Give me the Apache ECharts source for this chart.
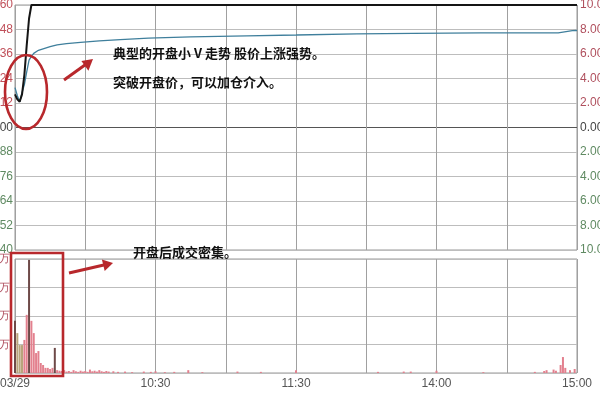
<!DOCTYPE html>
<html><head><meta charset="utf-8">
<script src="https://cdn.jsdelivr.net/npm/echarts@6/dist/echarts.min.js"></script>
<style>html,body{margin:0;padding:0;background:#fff}#c{width:600px;height:400px}</style>
</head><body><div id="c"></div>
<script>
// ---- data ----
const basePrice = 6.00;                       // opening reference price
const timeTicks = [0, 60, 120, 180, 240];     // minutes from 09:30
const timeTickLabels = ['03/29', '10:30', '11:30', '14:00', '15:00'];
const priceMinutes = [0, 1, 2, 3, 4, 5, 6, 7, 240];
const pricePct     = [2.7, 2.3, 2.1, 2.7, 4.3, 6.7, 8.9, 10, 10];
const avgMinutes = [0, 1, 2, 3, 4, 5, 6, 7, 8, 10, 15, 18, 22, 28, 36, 45, 57, 75, 99, 120, 146, 170, 199, 232, 238, 240];
const avgPct     = [3.25, 2.6, 2.1, 2.85, 3.5, 4.55, 5.5, 5.8, 6.05, 6.3, 6.6, 6.75, 6.85, 6.95, 7.07, 7.18, 7.3, 7.4, 7.48, 7.55, 7.64, 7.68, 7.72, 7.73, 7.9, 7.92];
const volMinutes = [0, 1, 2, 3, 4, 5, 6, 7, 8, 9, 10, 11, 12, 13, 14, 15, 16, 17, 18, 19,
  20, 21, 22, 23, 24, 25, 26, 27, 28, 29, 30, 31, 32, 33, 34, 35, 36, 37, 38, 39, 40, 42, 44, 47, 50, 55, 58, 60, 64, 68, 74, 80, 95, 105, 120, 155, 166, 169, 180, 200,
  222, 226, 227, 230, 231, 233, 234, 235, 237, 239];
const volValues = [183, 140, 98, 98, 116, 204, 397, 183, 140, 70, 77, 35, 28, 18, 18, 14, 18, 88, 10, 8,
  7, 10, 5, 7, 4, 10, 6, 4, 8, 5, 7, 4, 12, 6, 8, 5, 10, 6, 4, 7, 5, 6, 4, 5, 3, 5, 4, 6, 3, 4, 10, 3, 5, 4, 10, 4, 5, 5, 8, 3,
  4, 7, 10, 12, 8, 28, 56, 18, 10, 14];
const darkBarMinutes = [0, 6, 17];
const oliveBarMinutes = [1, 2, 3];

// ---- chart ----
const red = '#b8282c';
const chart = echarts.init(document.getElementById('c'), null, {renderer: 'canvas'});
const zip = (a, b) => a.map((v, i) => [v, b[i]]);
const font = '"Liberation Sans", Arial, sans-serif';
const hGrid = [];
for (let i = 0; i <= 10; i++) hGrid.push(i === 5 ? '#555' : '#bdbdbd');

chart.setOption({
  animation: false,
  backgroundColor: '#fff',
  grid: [
    {left: 15, right: 23, top: 5, height: 245, show: true, borderColor: '#999', borderWidth: 1,
     containLabel: false, outerBoundsMode: 'none'},
    {left: 15, right: 23, top: 259, height: 114, show: true, borderColor: '#999', borderWidth: 1,
     containLabel: false, outerBoundsMode: 'none'}
  ],
  xAxis: [
    {type: 'value', gridIndex: 0, min: 0, max: 240, interval: 30,
     axisLabel: {show: false}, axisTick: {show: false}, axisLine: {show: false},
     splitLine: {show: true, lineStyle: {color: '#a0a0a0', width: 1}}},
    {type: 'value', gridIndex: 1, min: 0, max: 240, interval: 30,
     axisTick: {show: false}, axisLine: {show: false},
     axisLabel: {margin: 5, fontSize: 12, color: '#555', fontFamily: font,
       showMinLabel: true, showMaxLabel: true, hideOverlap: false,
       formatter: v => { const i = timeTicks.indexOf(v); return i >= 0 ? timeTickLabels[i] : ''; }},
     splitLine: {show: true, lineStyle: {color: '#a0a0a0', width: 1}}}
  ],
  yAxis: [
    {type: 'value', gridIndex: 0, min: -10, max: 10, interval: 2, position: 'left',
     axisLine: {show: false}, axisTick: {show: false},
     axisLabel: {margin: 2, fontSize: 12, fontFamily: font,
       formatter: v => (basePrice * (1 + v / 100)).toFixed(2),
       color: v => (v > 0 ? '#c0505a' : v < 0 ? '#5f8a62' : '#444')},
     splitLine: {show: true, lineStyle: {color: hGrid, width: 1}}},
    {type: 'value', gridIndex: 0, min: -10, max: 10, interval: 2, position: 'right',
     axisLine: {show: false}, axisTick: {show: false},
     axisLabel: {margin: 3, fontSize: 12, fontFamily: font,
       formatter: v => Math.abs(v).toFixed(2) + '%',
       color: v => (v > 0 ? '#b0505e' : v < 0 ? '#5f8a62' : '#444')},
     splitLine: {show: false}},
    {type: 'value', gridIndex: 1, min: 0, max: 400, interval: 100, position: 'left',
     axisLine: {show: false}, axisTick: {show: false},
     axisLabel: {margin: 5, fontSize: 11, fontFamily: font, color: '#b05060',
       showMinLabel: false, formatter: v => v + '万'},
     splitLine: {show: true, lineStyle: {color: '#bdbdbd', width: 1}}}
  ],
  series: [
    {type: 'bar', xAxisIndex: 1, yAxisIndex: 2, barWidth: 2,
     data: zip(volMinutes, volValues),
     itemStyle: {color: p => darkBarMinutes.includes(p.value[0]) ? '#6e4a48'
        : oliveBarMinutes.includes(p.value[0]) ? '#b9a47c' : '#e3808e'}},
    {type: 'line', xAxisIndex: 0, yAxisIndex: 0, data: zip(avgMinutes, avgPct),
     symbol: 'none', clip: false, z: 4, lineStyle: {color: '#3f7f9c', width: 1.3}},
    {type: 'line', xAxisIndex: 0, yAxisIndex: 0, data: zip(priceMinutes, pricePct),
     symbol: 'none', clip: false, z: 5, lineStyle: {color: '#151515', width: 2}}
  ],
  graphic: [
    {type: 'ellipse', shape: {cx: 26, cy: 92, rx: 21, ry: 37}, z: 100,
     style: {fill: 'none', stroke: red, lineWidth: 2.6}},
    {type: 'line', shape: {x1: 64, y1: 80, x2: 87, y2: 63.5}, z: 100,
     style: {stroke: red, lineWidth: 3}},
    {type: 'polygon', shape: {points: [[93, 59], [88.4, 70.7], [81.4, 61]]}, z: 100,
     style: {fill: red}},
    {type: 'rect', shape: {x: 11, y: 253, width: 52, height: 123}, z: 100,
     style: {fill: 'none', stroke: red, lineWidth: 2.6}},
    {type: 'line', shape: {x1: 69, y1: 273, x2: 106, y2: 264.5}, z: 100,
     style: {stroke: red, lineWidth: 3}},
    {type: 'polygon', shape: {points: [[113, 263], [104.7, 271.1], [101.9, 259.5]]}, z: 100,
     style: {fill: red}},
    {type: 'text', x: 113, y: 53, z: 100,
     style: {text: '典型的开盘小 V 走势 股价上涨强势。', fill: '#111', verticalAlign: 'middle',
       font: 'bold 13px "Noto Sans CJK SC"'}},
    {type: 'text', x: 113, y: 82, z: 100,
     style: {text: '突破开盘价，可以加仓介入。', fill: '#111', verticalAlign: 'middle',
       font: 'bold 13px "Noto Sans CJK SC"'}},
    {type: 'text', x: 133, y: 252, z: 100,
     style: {text: '开盘后成交密集。', fill: '#111', verticalAlign: 'middle',
       font: 'bold 13px "Noto Sans CJK SC"'}}
  ]
});
</script>
</body></html>
